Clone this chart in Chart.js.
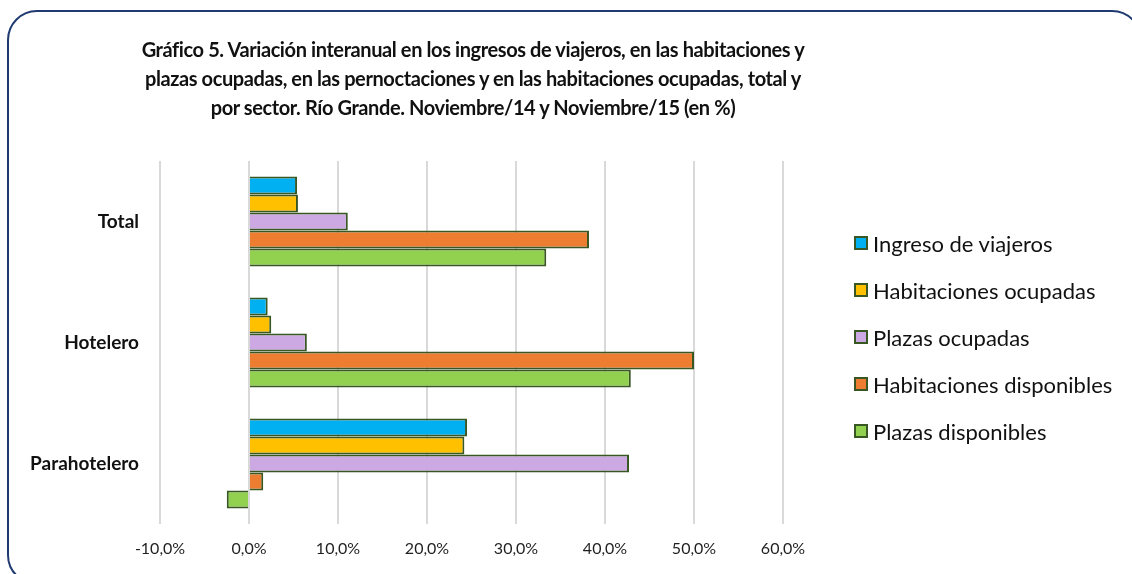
<!DOCTYPE html>
<html>
<head>
<meta charset="utf-8">
<script src="https://cdn.jsdelivr.net/npm/chart.js@4.4.1/dist/chart.umd.min.js"></script>
<style>
  html, body { margin: 0; padding: 0; background: #fff; overflow: hidden; }
  body { width: 1132px; height: 574px; position: relative; font-family: Lato, "Open Sans", sans-serif; }
  #frame {
    position: absolute; left: 7px; top: 10px; width: 1135px; height: 575px;
    border: 2px solid #1f3a70; border-radius: 30px; box-sizing: border-box;
    pointer-events: none;
  }
  #title {
    position: absolute; left: 0; top: 35px; width: 946px; text-align: center;
    font-weight: bold; font-size: 20px; letter-spacing: -0.4px; line-height: 29px; color: #111;
  }
  #chartBox { position: absolute; left: 0; top: 0; width: 1132px; height: 574px; }
  #legend { position: absolute; left: 854px; top: 231px; }
  .legend-item { display: flex; align-items: center; height: 24px; margin-bottom: 23px; font-size: 22px; color: #111; }
  .legend-box { width: 10px; height: 10px; border: 2px solid #385723; margin-right: 5px; }
</style>
</head>
<body>
<div id="chartBox"><canvas id="variacionChart"></canvas></div>
<div id="title">Gráfico 5. Variación interanual en los ingresos de viajeros, en las habitaciones y<br>plazas ocupadas, en las pernoctaciones y en las habitaciones ocupadas, total y<br>por sector. Río Grande. Noviembre/14 y Noviembre/15 (en %)</div>
<div id="legend"></div>
<div id="frame"></div>

<script>
const categories = ["Total", "Hotelero", "Parahotelero"];
const seriesNames = [
  "Ingreso de viajeros",
  "Habitaciones ocupadas",
  "Plazas ocupadas",
  "Habitaciones disponibles",
  "Plazas disponibles"
];
const ingresoViajeros = [5.4, 2.1, 24.5];
const habitacionesOcupadas = [5.5, 2.5, 24.2];
const plazasOcupadas = [11.1, 6.5, 42.7];
const habitacionesDisponibles = [38.2, 50.0, 1.6];
const plazasDisponibles = [33.4, 42.9, -2.5];
const xTicks = [-10, 0, 10, 20, 30, 40, 50, 60];

const seriesValues = [ingresoViajeros, habitacionesOcupadas, plazasOcupadas, habitacionesDisponibles, plazasDisponibles];
const seriesColors = ["#00b0f0", "#ffc000", "#cca9e3", "#ed7d31", "#92d050"];
const barBorder = "#385723";

let variacionChartInstance = null;

document.addEventListener("DOMContentLoaded", function () {
  renderVariacionChart();
  renderLegend();
});

function formatPercent(value) {
  return value.toFixed(1).replace(".", ",") + "%";
}

function renderVariacionChart() {
  const ctx = document.getElementById("variacionChart");
  if (!ctx) return;

  variacionChartInstance = new Chart(ctx, {
    type: "bar",
    data: {
      labels: categories,
      datasets: seriesNames.map(function (name, i) {
        return {
          label: name,
          data: seriesValues[i],
          backgroundColor: seriesColors[i],
          borderColor: barBorder,
          borderWidth: 2,
          categoryPercentage: 0.745,
          barPercentage: 1
        };
      })
    },
    options: {
      indexAxis: "y",
      responsive: true,
      maintainAspectRatio: false,
      animation: false,
      layout: {
        padding: { top: 161, right: 349, bottom: 0, left: 0 }
      },
      scales: {
        x: {
          min: -10,
          max: 60,
          afterBuildTicks: function (scale) {
            scale.ticks = xTicks.map(v => ({ value: v }));
          },
          afterFit: function (scale) {
            scale.height = 50;
          },
          grid: {
            color: "#d9d9d9",
            lineWidth: 2,
            drawTicks: false
          },
          border: { display: false },
          ticks: {
            padding: 15,
            color: "#1f1f1f",
            font: { family: "Lato", size: 16 },
            callback: function (value) {
              return formatPercent(value);
            }
          }
        },
        y: {
          afterFit: function (scale) {
            scale.width = 160;
          },
          grid: { display: false, drawTicks: false },
          border: { display: false },
          ticks: {
            padding: 21,
            color: "#111",
            font: { family: "Lato", size: 19, weight: "bold" }
          }
        }
      },
      plugins: {
        legend: { display: false },
        tooltip: { enabled: false }
      }
    }
  });
}

function renderLegend() {
  const box = document.getElementById("legend");
  if (!box || !variacionChartInstance) return;

  variacionChartInstance.data.datasets.forEach(function (ds) {
    const item = document.createElement("div");
    item.className = "legend-item";
    const swatch = document.createElement("span");
    swatch.className = "legend-box";
    swatch.style.background = ds.backgroundColor;
    const text = document.createElement("span");
    text.textContent = ds.label;
    item.appendChild(swatch);
    item.appendChild(text);
    box.appendChild(item);
  });
}
</script>
</body>
</html>
